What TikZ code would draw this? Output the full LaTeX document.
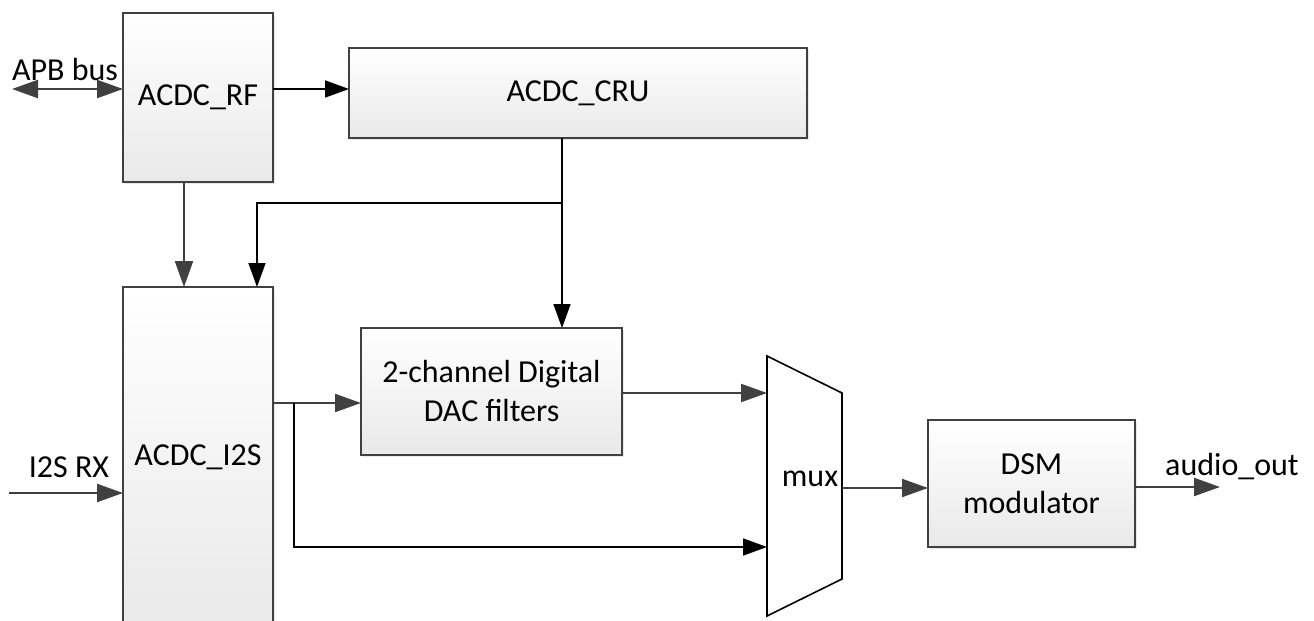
\documentclass[tikz,border=0pt]{standalone}
\usepackage{fontspec}
\setmainfont{Carlito}
\usetikzlibrary{
  positioning, arrows.meta, shadows
}
\definecolor{acdcline}{HTML}{404040}
\definecolor{acdcfill}{HTML}{E9E9E9}

\begin{document}
\begin{tikzpicture}[
      x=0.5pt, y=-0.5pt,
      every node/.style={font=\fontsize{16}{19.5}\selectfont},
      block/.style={draw=acdcline, line width=0.75pt, top color=white,
                    bottom color=acdcfill, align=center, inner sep=0pt,
                    outer sep=0pt,
                    drop shadow={shadow xshift=1.2pt, shadow yshift=-1.2pt,
                                 opacity=0.18}},
      bus/.style={draw=acdcline, line width=1.1pt,
                  -{Triangle[length=13pt, width=9pt]}},
      ctl/.style={draw=black, line width=0.8pt,
                  -{Triangle[length=12pt, width=8.5pt]}},
      lbl/.style={inner sep=0pt},
    ]
    \clip (0,0) rectangle (1314,621);
    \node[block, minimum width=75pt, minimum height=84.5pt] (rf) at (198, 97.5)
      {ACDC\_RF};
    \node[block, minimum width=229pt, minimum height=45pt] (cru) at (578, 93)
      {ACDC\_CRU};
    \node[block, minimum width=75pt, minimum height=170pt] (i2s) at (198, 457)
      {ACDC\_I2S};
    \node[block, minimum width=130.5pt, minimum height=63.5pt] (dac) at (491.5, 391.5)
      {2-channel Digital\\DAC filters};
    \node[block, minimum width=103.5pt, minimum height=63.5pt] (dsm) at (1031.5, 483.5)
      {DSM\\modulator};
    % mux
    \draw[black, line width=0.8pt, fill=white]
      (767, 356) -- (842, 393) -- (842, 579) -- (767, 616) -- cycle;
    \node[lbl] (mux) at (810, 479) {mux};
    \coordinate (muxa) at (767, 393);
    \coordinate (muxb) at (767, 547);
    \coordinate (muxo) at (842, 488);
    % inputs
    \coordinate (apb) at (12, 89);
    \draw[bus, {Triangle[length=13pt, width=9pt]}-{Triangle[length=13pt, width=9pt]}]
      (apb) -- (apb -| rf.west);
    \node[lbl] (apblbl) at (65, 70) {APB bus};
    \coordinate (rx) at (9, 493);
    \draw[bus] (rx) -- (rx -| i2s.west);
    \node[lbl] (rxlbl) at (69, 467) {I2S RX};
    % control
    \draw[ctl] (apb -| rf.east) -- (apb -| cru.west);
    \coordinate (rfo) at (184, 182);
    \draw[bus] (rfo) -- (rfo |- i2s.north);
    \coordinate (clk) at (562, 203);
    \coordinate (clki) at (257, 287);
    \draw[ctl] (clk |- cru.south) -- (clk |- dac.north);
    \draw[ctl] (clk) -| (clki);
    % data path
    \coordinate (dat) at (294, 403);
    \draw[bus] (dat -| i2s.east) -- (dat -| dac.west);
    \draw[ctl] (dat) |- (muxb);
    \draw[bus] (muxa -| dac.east) -- (muxa);
    \draw[bus] (muxo) -- (muxo -| dsm.west);
    \coordinate (aout) at (1220, 487);
    \draw[bus] (aout -| dsm.east) -- (aout);
    \node[lbl] (aoutlbl) at (1232, 467) {audio\_out};
  \end{tikzpicture}
\end{document}
